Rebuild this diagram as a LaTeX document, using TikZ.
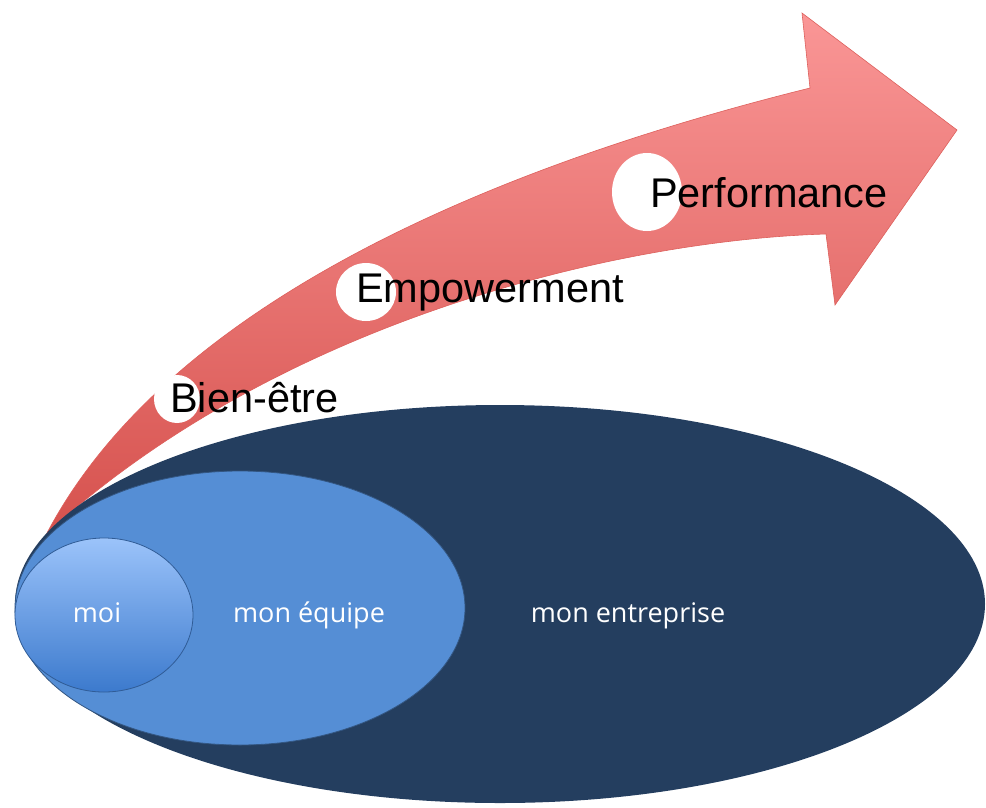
\documentclass[tikz,border=0pt]{standalone}
\usepackage{fontspec}
\setmainfont{Liberation Sans}
\newfontfamily\levelfont{Open Sans}
\usepackage{xcolor}
\usetikzlibrary{positioning}
\usetikzlibrary{shapes.geometric}

\definecolor{navy}{RGB}{36,62,95}
\definecolor{equipeblue}{RGB}{85,142,213}
\definecolor{moitop}{RGB}{155,195,250}
\definecolor{moibot}{RGB}{60,122,205}
\definecolor{arrowtop}{RGB}{250,150,150}
\definecolor{arrowbot}{RGB}{214,82,78}

\tikzset{
  stage/.style={font=\fontsize{41.5}{41.5}\selectfont, text=black, inner sep=0pt, anchor=base west},
  spot/.style={ellipse, fill=white, inner sep=0pt},
  level/.style={font=\levelfont\fontsize{27}{27}\selectfont, text=white, inner sep=0pt, anchor=base},
  ring/.style={ellipse, inner sep=0pt}
}

\begin{document}
\begin{tikzpicture}[x=1pt,y=-1pt]
\useasboundingbox (0,0) rectangle (986,807);

% the arrow
\shade[top color=arrowtop, bottom color=arrowbot, draw=arrowbot!80!arrowtop, line width=0.6pt]
  (47,533) .. controls (170,300) and (500,165) .. (810,88)
  -- (802,13) -- (957,130) -- (835,305) -- (826,234)
  .. controls (620,240) and (280,320) .. (47,533) -- cycle;

% circles
\node[ring, fill=navy, minimum width=970pt, minimum height=398pt] (entreprise) at (500,604) {};
\node[ring, fill=equipeblue, draw=navy!70!equipeblue, line width=0.8pt, minimum width=450pt, minimum height=274pt] (equipe) at (240,608) {};
\node[ring, top color=moitop, bottom color=moibot, draw=navy!50!moibot, line width=0.8pt, minimum width=178pt, minimum height=154pt] (moi) at (104,615) {};

\node[level] (tmoi) at (97,622) {moi};
\node[level] (tequipe) at (309,622) {mon équipe};
\node[level] (tentreprise) at (628,622) {mon entreprise};

% steps
\node[spot, minimum width=46pt, minimum height=48pt] (spotbien) at (177,399) {};
\node[spot, minimum width=60pt, minimum height=58pt] (spotemp) at (366,292) {};
\node[spot, minimum width=70pt, minimum height=78pt] (spotperf) at (647,192) {};

\node[stage] (bien) at (170,412) {Bien-être};
\node[stage] (emp) at (356,302) {Empowerment};
\node[stage] (perf) at (650,207) {Performance};
\end{tikzpicture}
\end{document}
